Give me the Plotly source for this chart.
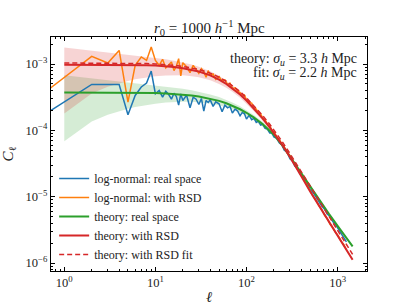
import plotly.graph_objects as go

# ---------------- data (log10 C_ell) ----------------
theory_ell = [1, 2, 3, 4, 5, 6, 7, 8, 10, 13, 16, 20, 25, 30, 40, 50, 60, 70, 85, 100,
              120, 150, 180, 200, 250, 300, 350, 400, 500, 600, 700, 800, 1000, 1200, 1462]
theory_real_log10 = [-3.430, -3.430, -3.431, -3.431, -3.432, -3.433, -3.434, -3.435, -3.438, -3.443,
                     -3.450, -3.460, -3.474, -3.490, -3.522, -3.556, -3.592, -3.628, -3.682, -3.735,
                     -3.805, -3.905, -4.000, -4.065, -4.235, -4.395, -4.535, -4.660, -4.860, -5.015,
                     -5.145, -5.255, -5.440, -5.590, -5.750]
theory_rsd_log10 = [-3.010, -3.010, -3.011, -3.012, -3.013, -3.015, -3.017, -3.019, -3.024, -3.034,
                    -3.046, -3.063, -3.087, -3.113, -3.172, -3.235, -3.300, -3.365, -3.460, -3.550,
                    -3.665, -3.820, -3.955, -4.040, -4.230, -4.400, -4.550, -4.690, -4.920, -5.095,
                    -5.240, -5.370, -5.585, -5.760, -5.950]
theory_fit_log10 = [-2.985, -2.985, -2.986, -2.987, -2.988, -2.990, -2.992, -2.994, -2.999, -3.008,
                    -3.020, -3.036, -3.058, -3.082, -3.138, -3.198, -3.260, -3.323, -3.415, -3.510,
                    -3.622, -3.775, -3.908, -3.993, -4.181, -4.350, -4.498, -4.633, -4.858, -5.030,
                    -5.177, -5.305, -5.515, -5.685, -5.870]
# cosmic-variance band half-widths (dex), upper and lower
band_up_dex = [0.2593, 0.2128, 0.1860, 0.1677, 0.1542, 0.1437, 0.1351, 0.1281, 0.1168, 0.1045,
               0.0956, 0.0866, 0.0784, 0.0724, 0.0634, 0.0571, 0.0525, 0.0488, 0.0446, 0.0413,
               0.0379, 0.0340, 0.0311, 0.0296, 0.0266, 0.0244, 0.0226, 0.0212, 0.0190, 0.0174,
               0.0161, 0.0151, 0.0135, 0.0124, 0.0112]
band_lo_dex = [-0.7360, -0.4349, -0.3326, -0.2757, -0.2416, -0.2165, -0.1972, -0.1823, -0.1602, -0.1380,
               -0.1227, -0.1084, -0.0958, -0.0869, -0.0743, -0.0658, -0.0597, -0.0550, -0.0497, -0.0457,
               -0.0415, -0.0369, -0.0336, -0.0318, -0.0283, -0.0258, -0.0238, -0.0223, -0.0199, -0.0181,
               -0.0167, -0.0156, -0.0139, -0.0127, -0.0115]

lognormal_ell = [0.5, 2, 3, 4, 5, 6, 7, 8, 9, 10,
                 11, 12, 13, 14, 15, 16, 17, 18, 19, 20,
                 22, 24, 26, 28, 30, 32, 34, 36, 38, 40,
                 43, 46, 50, 54, 58, 62, 66, 70, 75, 80, 85, 90, 95, 100,
                 107, 114, 121, 128, 135, 143, 151, 160, 170, 180, 190, 200,
                 215, 230, 245, 260, 280, 300, 320, 340, 360, 385, 410, 440, 470, 500,
                 540, 580, 620, 670, 720, 770, 830, 890, 950, 1020, 1090, 1170, 1250]
lognormal_real_log10 = [-3.834, -3.308, -3.308, -3.308, -3.765, -3.474, -3.347, -3.287, -3.106, -3.448,
                        -3.40, -3.50, -3.41, -3.46, -3.53, -3.44, -3.49, -3.62, -3.45, -3.55,
                        -3.47, -3.66, -3.50, -3.53, -3.61, -3.52, -3.71, -3.55, -3.58, -3.54,
                        -3.64, -3.57, -3.60, -3.72, -3.62, -3.66, -3.64, -3.74, -3.68, -3.71, -3.78, -3.73, -3.75, -3.83,
                        -3.77, -3.84, -3.82, -3.88, -3.86, -3.92, -3.91, -3.97, -3.98, -4.04, -4.04, -4.10,
                        -4.12, -4.19, -4.22, -4.30, -4.33, -4.43, -4.46, -4.54, -4.56, -4.65, -4.69, -4.77, -4.82, -4.89,
                        -4.94, -5.01, -5.06, -5.14, -5.19, -5.26, -5.30, -5.38, -5.42, -5.49, -5.54, -5.61, -5.68]
lognormal_rsd_log10 = [-3.520, -2.885, -2.985, -2.795, -3.573, -3.021, -2.894, -2.946, -2.744, -2.946,
                       -3.02, -2.93, -3.06, -3.01, -2.97, -3.10, -3.03, -2.92, -3.18, -2.98,
                       -3.04, -3.13, -3.02, -3.08, -3.14, -3.07, -3.12, -3.20, -3.10, -3.17,
                       -3.15, -3.23, -3.19, -3.26, -3.24, -3.31, -3.29, -3.37, -3.36, -3.41, -3.43, -3.49, -3.47, -3.54,
                       -3.58, -3.59, -3.66, -3.68, -3.74, -3.75, -3.82, -3.84, -3.91, -3.93, -4.00, -4.02,
                       -4.10, -4.14, -4.21, -4.25, -4.34, -4.38, -4.46, -4.50, -4.58, -4.63, -4.71, -4.77, -4.85, -4.90,
                       -5.00, -5.05, -5.13, -5.19, -5.28, -5.33, -5.42, -5.47, -5.54, -5.59, -5.67, -5.72, -5.80]

labels = ["log-normal: real space", "log-normal: with RSD", "theory: real space",
          "theory: with RSD", "theory: with RSD fit"]
title_text = "<i>r</i><sub>0</sub> = 1000 <i>h</i><sup>−1</sup> Mpc"
annot_lines = ["theory: <i>σ<sub>u</sub></i> = 3.3 <i>h</i> Mpc",
               "fit: <i>σ<sub>u</sub></i> = 2.2 <i>h</i> Mpc"]

# ---------------- styling ----------------
BLUE, ORANGE, GREEN, RED = "#1f77b4", "#ff7f0e", "#2ca02c", "#d62728"
FONT = "Liberation Serif"
TXT = "#222"


def p10(vals):
    return [10 ** v for v in vals]


fig = go.Figure()

# bands
for centre, fillc in [(theory_real_log10, "rgba(44,160,44,0.2)"), (theory_rsd_log10, "rgba(214,39,40,0.2)")]:
    lo = [c + d for c, d in zip(centre, band_lo_dex)]
    up = [c + d for c, d in zip(centre, band_up_dex)]
    fig.add_trace(go.Scatter(x=theory_ell, y=p10(lo), mode="lines", line=dict(width=0),
                             showlegend=False, hoverinfo="skip"))
    fig.add_trace(go.Scatter(x=theory_ell, y=p10(up), mode="lines", line=dict(width=0),
                             fill="tonexty", fillcolor=fillc, showlegend=False, hoverinfo="skip"))

fig.add_trace(go.Scatter(x=lognormal_ell, y=p10(lognormal_real_log10), mode="lines",
                         line=dict(color=BLUE, width=1.5), name=labels[0]))
fig.add_trace(go.Scatter(x=lognormal_ell, y=p10(lognormal_rsd_log10), mode="lines",
                         line=dict(color=ORANGE, width=1.5), name=labels[1]))
fig.add_trace(go.Scatter(x=theory_ell, y=p10(theory_real_log10), mode="lines",
                         line=dict(color=GREEN, width=2), name=labels[2]))
fig.add_trace(go.Scatter(x=theory_ell, y=p10(theory_rsd_log10), mode="lines",
                         line=dict(color=RED, width=2), name=labels[3]))
fig.add_trace(go.Scatter(x=theory_ell, y=p10(theory_fit_log10), mode="lines",
                         line=dict(color=RED, width=1.5, dash="5px,3px"), name=labels[4]))

x_major = [1, 10, 100, 1000]
x_major_text = ["10<sup>0</sup>", "10<sup>1</sup>", "10<sup>2</sup>", "10<sup>3</sup>"]
x_minor = [m * 10 ** e for e in range(-1, 4) for m in range(2, 10)]
y_major = [1e-6, 1e-5, 1e-4, 1e-3]
y_major_text = ["10<sup>−6</sup>", "10<sup>−5</sup>", "10<sup>−4</sup>", "10<sup>−3</sup>"]
y_minor = [m * 10.0 ** e for e in range(-7, -2) for m in range(2, 10)]

axis_common = dict(showline=True, linecolor="black", linewidth=1.2, mirror="allticks",
                   ticks="inside", ticklen=4, tickwidth=1, tickcolor="black", showgrid=False,
                   zeroline=False, automargin=False, tickfont=dict(family=FONT, size=12.5, color=TXT))

fig.update_xaxes(type="log", range=[-0.146, 3.323], tickvals=x_major, ticktext=x_major_text,
                 minor=dict(tickvals=x_minor, ticks="inside", ticklen=2, tickcolor="black", showgrid=False),
                 title=dict(text="<i>ℓ</i>", font=dict(family=FONT, size=15, color=TXT), standoff=4),
                 **axis_common)
fig.update_yaxes(type="log", range=[-6.12, -2.593], tickvals=y_major, ticktext=y_major_text,
                 minor=dict(tickvals=y_minor, ticks="inside", ticklen=2, tickcolor="black", showgrid=False),
                 title=dict(text="<i>C</i><sub>ℓ</sub>", font=dict(family=FONT, size=15, color=TXT), standoff=10),
                 **axis_common)

# title (as annotation above the plot area)
fig.add_annotation(xref="paper", yref="paper", x=0.5, y=1.0 - 3 / 234, xanchor="center", yanchor="bottom",
                   text=title_text, showarrow=False, font=dict(family=FONT, size=15, color=TXT))
# sigma_u text, two right-aligned lines
fig.add_annotation(xref="paper", yref="paper", x=0.972, y=1.0 - 13 / 234, xanchor="right", yanchor="top",
                   text=annot_lines[0], showarrow=False, borderpad=0, font=dict(family=FONT, size=14, color=TXT))
fig.add_annotation(xref="paper", yref="paper", x=0.972, y=1.0 - 27 / 234, xanchor="right", yanchor="top",
                   text=annot_lines[1], showarrow=False, borderpad=0, font=dict(family=FONT, size=14, color=TXT))

fig.update_layout(
    width=407, height=305, autosize=False,
    margin=dict(l=51, r=40, t=37, b=34),
    paper_bgcolor="white", plot_bgcolor="white",
    legend=dict(x=0.01, y=0.457, xanchor="left", yanchor="top", bgcolor="rgba(0,0,0,0)",
                traceorder="normal",
                font=dict(family=FONT, size=12, color=TXT), itemwidth=30, tracegroupgap=0),
    showlegend=True,
)

fig.write_html("out.html", config={"displayModeBar": False},
               post_script="document.body.style.margin='0px';")
